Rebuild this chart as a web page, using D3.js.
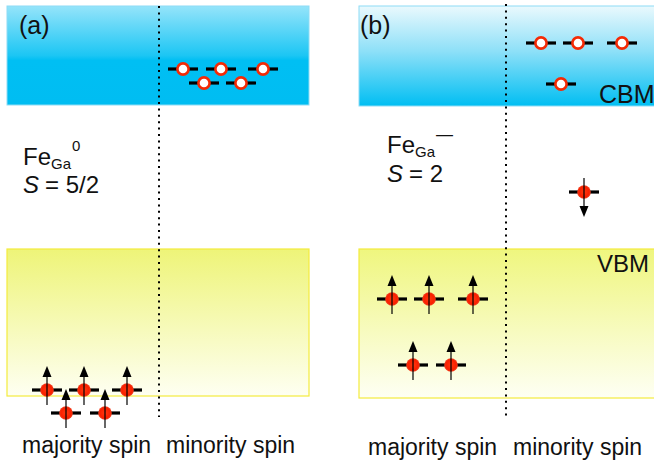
<!DOCTYPE html>
<html><head><meta charset="utf-8">
<script src="https://cdn.jsdelivr.net/npm/d3@7"></script>
<style>body{margin:0;background:#fff}svg{display:block}text{font-family:"Liberation Sans",Arial,sans-serif;fill:#111}</style>
</head><body><div id="c"></div>
<script>
// ---- data (panel-local units: x from panel left, y = pixel-like energy axis) ----
const panels = ["a", "b"];
const panelLabels = ["(a)", "(b)"];
const speciesBase = ["Fe", "Fe"];
const speciesSub = ["Ga", "Ga"];
const speciesSup = ["0", "—"];
const spinText = ["= 5/2", "= 2"];
const spinLabels = ["majority spin", "minority spin"];
// CBM empty levels (minority spin)
const cbmEmptyA = [[176,69],[214,69],[256,69],[197,83],[234,83]];
const cbmEmptyB = [[182,43],[219,43],[263,43],[202,84]];
// VBM / gap occupied levels: [x, y, spin]
const occA = [[40,390,1],[77,390,1],[120,390,1],[59,413,1],[98,413,1]];
const occB = [[33,299,1],[70,299,1],[114,299,1],[54,365,1],[92,365,1],[225,192,-1]];

const W = 654, H = 464;
const svg = d3.select("#c").append("svg").attr("width", W).attr("height", H);
const defs = svg.append("defs");
function lg(id, stops){
  const g = defs.append("linearGradient").attr("id", id).attr("x1",0).attr("y1",0).attr("x2",0).attr("y2",1);
  stops.forEach(s => g.append("stop").attr("offset", s[0]).attr("stop-color", s[1]));
}
lg("cbmA", [[0,"#95e4fa"],[0.5,"#1cc6f4"],[0.55,"#00bff3"],[1,"#00bdf2"]]);
lg("cbmB", [[0,"#eaf9fd"],[0.45,"#8ee0f8"],[1,"#00bef2"]]);
lg("vbmA", [[0,"#eef478"],[1,"#fefff2"]]);
lg("vbmB", [[0,"#eff67e"],[1,"#fefff4"]]);
const rg = defs.append("radialGradient").attr("id","elec");
rg.append("stop").attr("offset",0).attr("stop-color","#ff3a10");
rg.append("stop").attr("offset",0.75).attr("stop-color","#fa2000");
rg.append("stop").attr("offset",1).attr("stop-color","#f04020");

const panelLeft = d3.scaleOrdinal().domain(panels).range([7, 359]);
const panelWidth = d3.scaleOrdinal().domain(panels).range([302, 310]);
const dividerX = d3.scaleOrdinal().domain(panels).range([152, 147]);
const y = d3.scaleLinear().domain([0, 464]).range([0, 464]);
const bands = {
  a: {cbm:[6,105], vbm:[249,396], cbmFill:"url(#cbmA)", vbmFill:"url(#vbmA)", empty: cbmEmptyA, occ: occA},
  b: {cbm:[6,106], vbm:[249,398], cbmFill:"url(#cbmB)", vbmFill:"url(#vbmB)", empty: cbmEmptyB, occ: occB}
};

panels.forEach((p, i) => {
  const x = d3.scaleLinear().domain([0, 1]).range([panelLeft(p), panelLeft(p) + 1]);
  const g = svg.append("g");
  const b = bands[p];
  const w = panelWidth(p);
  g.append("rect").attr("x", x(0)).attr("y", y(b.cbm[0])).attr("width", w).attr("height", y(b.cbm[1]) - y(b.cbm[0]))
    .attr("fill", b.cbmFill).attr("stroke", "#8edcf5").attr("stroke-width", 1);
  g.append("rect").attr("x", x(0)).attr("y", y(b.vbm[0])).attr("width", w).attr("height", y(b.vbm[1]) - y(b.vbm[0]))
    .attr("fill", b.vbmFill).attr("stroke", "#f4ec3c").attr("stroke-width", 1.2);
  // divider
  g.append("line").attr("x1", x(dividerX(p))).attr("x2", x(dividerX(p))).attr("y1", y(p==="a"?6:4)).attr("y2", y(417))
    .attr("stroke", "#000").attr("stroke-width", 2).attr("stroke-dasharray", "2,4.4");
  // panel label
  g.append("text").attr("x", x(p==="a"?12:1)).attr("y", y(34)).attr("font-size", 25).text(panelLabels[i]);
  // species label
  const sx = p==="a" ? 16 : 28, sy = p==="a" ? 165 : 153;
  const t = g.append("text").attr("x", x(sx)).attr("y", y(sy)).attr("font-size", 24);
  t.append("tspan").text(speciesBase[i]);
  t.append("tspan").attr("font-size", 15).attr("dy", 4).text(speciesSub[i]);
  t.append("tspan").attr("font-size", p==="a"?15:17).attr("dy", p==="a"?-18:-17).attr("dx", 1).text(speciesSup[i]);
  const s = g.append("text").attr("x", x(sx)).attr("y", y(sy + (p==="a"?28:29))).attr("font-size", 24);
  s.append("tspan").attr("font-style", "italic").text("S");
  s.append("tspan").attr("dx", 6).text(spinText[i]);
  // spin labels
  const ly = p==="a" ? 453 : 455;
  g.append("text").attr("x", x(p==="a"?15:9)).attr("y", y(ly)).attr("font-size", 23).text(spinLabels[0]);
  g.append("text").attr("x", x(p==="a"?159:154)).attr("y", y(ly)).attr("font-size", 23).text(spinLabels[1]);
  if (p === "b") {
    g.append("text").attr("x", x(240)).attr("y", y(103)).attr("font-size", 25).text("CBM");
    g.append("text").attr("x", x(238)).attr("y", y(272)).attr("font-size", 24).text("VBM");
  }
  // empty levels
  b.empty.forEach(d => {
    g.append("line").attr("x1", x(d[0]) - 15).attr("x2", x(d[0]) + 15).attr("y1", y(d[1])).attr("y2", y(d[1]))
      .attr("stroke", "#000").attr("stroke-width", 3.2);
    g.append("circle").attr("cx", x(d[0])).attr("cy", y(d[1])).attr("r", 5.6)
      .attr("fill", "#fff").attr("stroke", "#f42a05").attr("stroke-width", 2.6);
  });
  // occupied levels
  b.occ.forEach(d => {
    g.append("line").attr("x1", x(d[0]) - 15).attr("x2", x(d[0]) + 15).attr("y1", y(d[1])).attr("y2", y(d[1]))
      .attr("stroke", "#000").attr("stroke-width", 3.2);
    g.append("circle").attr("cx", x(d[0])).attr("cy", y(d[1])).attr("r", 6.8).attr("fill", "url(#elec)");
    const up = d[2] > 0;
    const cx = x(d[0]);
    const tail = y(d[1] + (up ? 15 : -14));
    const tip = y(d[1] + (up ? -24 : 25));
    const dir = up ? 1 : -1;
    g.append("line").attr("x1", cx).attr("x2", cx).attr("y1", tail).attr("y2", tip + dir * 6)
      .attr("stroke", "#000").attr("stroke-width", 1.2);
    g.append("path").attr("d", `M${cx},${tip} L${cx - 4.5},${tip + dir * 11} L${cx + 4.5},${tip + dir * 11} Z`)
      .attr("fill", "#000");
  });
});
</script></body></html>
